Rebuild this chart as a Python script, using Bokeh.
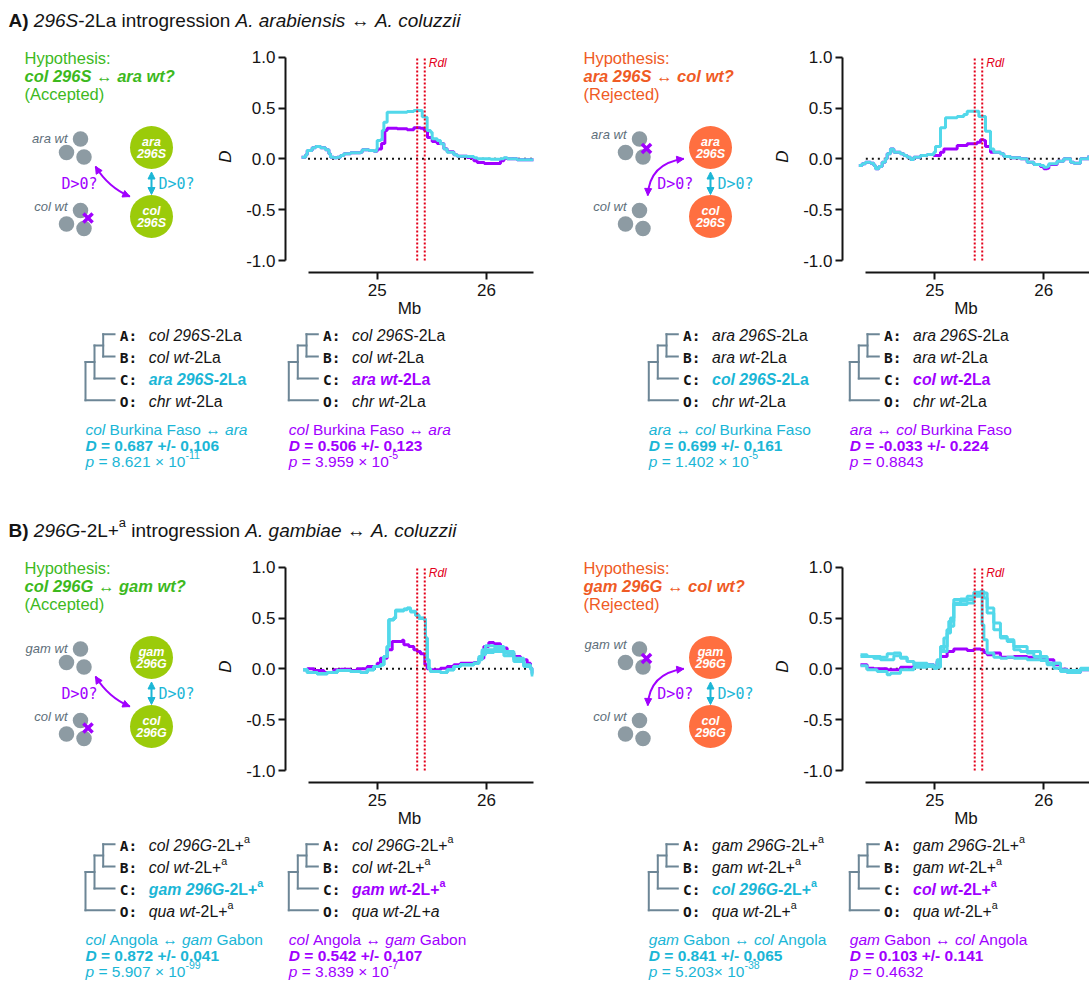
import numpy as np
from bokeh.plotting import figure
from bokeh.models import Range1d, FixedTicker, NumeralTickFormatter, Arrow, NormalHead
from bokeh.layouts import column, row
from bokeh.core.properties import value
from bokeh.embed import file_html
from bokeh.resources import INLINE

# ======================= DATA =======================
mb_ticks = [25, 26]
d_ticks = [-1.0, -0.5, 0.0, 0.5, 1.0]
rdl_pos = [25.366, 25.435]
mb_span = [24.367, 26.43]

# --- Panel A, left chart (col 296S <-> ara wt) ---
A1_cyan_mb = [24.308,24.345,24.360,24.405,24.436,24.482,24.527,24.558,24.573,24.604,24.634,24.665,24.695,24.756,24.848,24.863,24.924,24.970,24.994,25.000,25.030,25.046,25.061,25.091,25.183,25.274,25.335,25.396,25.412,25.442,25.457,25.488,25.503,25.549,25.579,25.610,25.640,25.701,25.732,25.823,25.884,25.915,26.037,26.128,26.159,26.189,26.280,26.433]
A1_cyan_d = [0.016,0.039,0.082,0.108,0.121,0.108,0.089,0.049,0.016,0.010,0.016,0.033,0.049,0.059,0.066,0.089,0.082,0.075,0.098,0.180,0.187,0.279,0.361,0.459,0.459,0.466,0.475,0.475,0.413,0.410,0.279,0.262,0.197,0.180,0.148,0.098,0.066,0.039,0.026,0.023,0.010,0.000,-0.003,0.000,0.010,0.000,-0.010,-0.010]
A1_purple_mb = [24.308,24.345,24.360,24.405,24.436,24.482,24.527,24.558,24.573,24.604,24.634,24.665,24.695,24.756,24.848,24.863,24.924,24.970,25.000,25.040,25.070,25.091,25.183,25.274,25.335,25.396,25.430,25.460,25.503,25.549,25.610,25.640,25.701,25.732,25.823,25.884,25.915,25.980,26.060,26.128,26.159,26.189,26.280,26.433]
A1_purple_d = [0.016,0.039,0.082,0.108,0.121,0.108,0.089,0.049,0.016,0.010,0.016,0.033,0.049,0.059,0.066,0.089,0.082,0.075,0.098,0.150,0.279,0.300,0.295,0.285,0.305,0.300,0.280,0.210,0.170,0.150,0.100,0.070,0.040,0.026,0.013,-0.020,-0.035,-0.045,-0.045,-0.020,0.005,0.000,-0.010,-0.010]

# --- Panel A, right chart (ara 296S <-> col wt) ---
A2_cyan_mb = [24.303,24.333,24.364,24.410,24.440,24.456,24.486,24.517,24.547,24.563,24.593,24.624,24.685,24.716,24.746,24.777,24.807,24.869,24.930,24.991,25.006,25.052,25.098,25.205,25.266,25.297,25.388,25.404,25.465,25.511,25.541,25.602,25.633,25.694,25.786,25.847,25.908,25.969,26.000,26.031,26.046,26.122,26.183,26.245,26.275,26.336,26.413]
A2_cyan_d = [-0.066,-0.049,-0.033,-0.043,-0.066,-0.098,-0.075,-0.033,0.000,0.049,0.098,0.066,0.049,0.033,0.016,-0.007,0.016,0.033,0.043,0.066,0.121,0.305,0.403,0.416,0.436,0.469,0.469,0.416,0.272,0.098,0.066,0.049,0.023,0.010,0.000,-0.033,-0.056,-0.066,-0.082,-0.075,-0.049,-0.023,0.000,-0.033,-0.043,0.000,0.033]
A2_purple_mb = [24.303,24.333,24.364,24.410,24.440,24.456,24.486,24.517,24.547,24.563,24.593,24.624,24.685,24.716,24.746,24.777,24.807,24.869,24.930,24.991,25.052,25.083,25.205,25.297,25.388,25.419,25.450,25.465,25.511,25.541,25.602,25.633,25.694,25.786,25.847,25.908,25.969,26.000,26.031,26.046,26.122,26.183,26.245,26.275,26.336,26.413]
A2_purple_d = [-0.066,-0.049,-0.033,-0.043,-0.066,-0.098,-0.075,-0.033,0.000,0.049,0.098,0.066,0.049,0.033,0.016,-0.007,0.016,0.033,0.043,0.033,0.066,0.098,0.131,0.148,0.164,0.187,0.180,0.121,0.066,0.066,0.049,0.023,0.010,0.000,-0.033,-0.056,-0.075,-0.098,-0.092,-0.055,-0.023,0.000,-0.033,-0.043,0.000,0.033]

# --- Panel B, left chart (col 296G <-> gam wt) ---
B1_purple_mb = [24.323,24.360,24.421,24.512,24.604,24.665,24.756,24.817,24.909,25.000,25.030,25.091,25.137,25.229,25.244,25.290,25.335,25.366,25.396,25.427,25.436,25.457,25.488,25.549,25.579,25.640,25.701,25.762,25.884,25.930,25.976,26.021,26.067,26.128,26.189,26.250,26.311,26.372,26.402,26.418]
B1_purple_d = [-0.010,0.000,-0.016,-0.036,-0.010,-0.003,-0.016,0.000,0.023,0.056,0.105,0.188,0.270,0.280,0.237,0.220,0.188,0.171,0.148,0.138,0.039,0.000,-0.010,-0.010,0.007,0.023,0.039,0.056,0.063,0.105,0.220,0.260,0.247,0.204,0.155,0.122,0.089,0.056,0.007,-0.043]
B1_cyan_mb = [24.323,24.360,24.451,24.543,24.634,24.756,24.848,24.909,24.970,25.030,25.061,25.091,25.107,25.152,25.168,25.244,25.274,25.305,25.351,25.381,25.427,25.442,25.457,25.473,25.488,25.579,25.640,25.701,25.762,25.884,25.930,25.960,25.991,26.067,26.159,26.250,26.341,26.402,26.418]
B1_cyan1_d = [-0.010,-0.036,-0.049,-0.036,-0.016,-0.026,-0.036,-0.010,0.023,0.039,0.122,0.220,0.484,0.500,0.576,0.589,0.599,0.566,0.533,0.500,0.490,0.303,0.089,0.000,-0.026,-0.036,-0.010,0.023,0.039,0.056,0.122,0.188,0.227,0.220,0.171,0.105,0.039,0.007,-0.076]
B1_cyan2_d = [-0.010,-0.036,-0.049,-0.036,-0.016,-0.026,-0.036,-0.010,0.023,0.039,0.122,0.220,0.484,0.500,0.570,0.580,0.590,0.560,0.525,0.495,0.485,0.303,0.089,0.000,-0.026,-0.036,-0.010,0.023,0.039,0.056,0.105,0.171,0.188,0.194,0.155,0.089,0.030,0.000,-0.060]
B1_cyan3_d = [-0.010,-0.036,-0.049,-0.036,-0.016,-0.026,-0.036,-0.010,0.023,0.039,0.122,0.220,0.484,0.500,0.576,0.585,0.595,0.563,0.530,0.498,0.488,0.303,0.089,0.000,-0.026,-0.036,-0.010,0.023,0.039,0.056,0.089,0.138,0.161,0.171,0.128,0.072,0.023,-0.005,-0.050]

# --- Panel B, right chart (gam 296G <-> col wt) ---
B2_purple_mb = [24.318,24.379,24.440,24.563,24.685,24.807,24.930,24.991,25.021,25.052,25.113,25.174,25.297,25.358,25.419,25.450,25.480,25.541,25.602,25.725,25.847,25.969,26.031,26.092,26.153,26.214,26.275,26.336,26.419]
B2_purple_d = [0.039,0.007,0.000,-0.010,0.016,0.030,0.039,0.023,0.072,0.122,0.171,0.194,0.181,0.194,0.188,0.161,0.138,0.155,0.115,0.122,0.115,0.105,0.089,0.039,-0.003,-0.036,-0.036,-0.010,0.007]
B2_cyan1_mb = [24.318,24.379,24.440,24.502,24.563,24.624,24.685,24.746,24.807,24.930,24.991,25.021,25.052,25.083,25.113,25.144,25.174,25.235,25.297,25.358,25.419,25.450,25.480,25.541,25.602,25.664,25.725,25.786,25.847,25.908,25.969,26.031,26.092,26.153,26.214,26.336,26.419]
B2_cyan1_d = [0.138,0.122,0.105,0.115,0.148,0.155,0.105,0.072,0.056,0.039,0.007,0.089,0.188,0.303,0.385,0.500,0.681,0.688,0.714,0.753,0.763,0.697,0.549,0.385,0.303,0.270,0.188,0.171,0.155,0.122,0.089,0.039,0.007,-0.026,-0.016,0.007,0.007]
B2_cyan2_mb = [24.318,24.502,24.563,24.624,24.685,24.746,24.807,24.930,24.991,25.052,25.113,25.144,25.174,25.297,25.358,25.419,25.450,25.480,25.541,25.602,25.664,25.725,25.847,25.969,26.031,26.153,26.336,26.419]
B2_cyan2_d = [0.122,0.089,0.089,0.128,0.115,0.072,0.039,0.023,0.016,0.171,0.352,0.418,0.632,0.648,0.730,0.753,0.747,0.599,0.451,0.319,0.286,0.220,0.171,0.122,0.056,-0.016,0.000,0.007]
B2_cyan3_mb = [24.318,24.379,24.471,24.563,24.593,24.685,24.807,24.930,24.991,25.021,25.052,25.113,25.128,25.174,25.235,25.297,25.358,25.419,25.434,25.450,25.480,25.541,25.602,25.664,25.725,25.847,25.969,26.031,26.153,26.214,26.336,26.419]
B2_cyan3_d = [0.030,-0.010,-0.026,-0.059,-0.043,-0.010,0.016,0.023,0.007,0.072,0.220,0.385,0.467,0.648,0.664,0.681,0.714,0.714,0.434,0.286,0.155,0.115,0.105,0.115,0.105,0.089,0.082,0.056,-0.010,-0.036,-0.010,0.007]

# ======================= STYLE =======================
PURPLE = "#A100FF"
CYAN_LINE = "#52D8EA"
CYAN_TXT = "#1BB6D6"
GREEN_TXT = "#3DB91E"
ORANGE_TXT = "#EF5B25"
GREEN_DOT = "#9BCB0A"
ORANGE_DOT = "#FF6F40"
GRAY_DOT = "#8D9BA3"
GRAY_TXT = "#5E6F7A"
TREE_COL = "#6D8696"
RED = "#E3001B"
BLACK = "#141414"
SANS = "Liberation Sans"
MONO = "DejaVu Sans Mono"

REG = {' ':278,'!':278,'(':333,')':333,'+':584,',':278,'-':333,'.':278,'/':278,':':278,'=':584,'>':584,'?':556,'\u00d7':584,'\u2194':1000,
       'A':667,'B':667,'C':722,'D':722,'E':667,'F':611,'G':778,'H':722,'I':278,'J':500,'K':667,'L':556,'M':833,'N':722,'O':778,'P':667,
       'Q':778,'R':722,'S':667,'T':611,'U':722,'V':667,'W':944,'X':667,'Y':667,'Z':611,
       'a':556,'b':556,'c':500,'d':556,'e':556,'f':278,'g':556,'h':556,'i':222,'j':222,'k':500,'l':222,'m':833,'n':556,'o':556,'p':556,
       'q':556,'r':333,'s':500,'t':278,'u':556,'v':500,'w':722,'x':500,'y':500,'z':500}
BOLD = {' ':278,'!':333,'(':333,')':333,'+':584,',':278,'-':333,'.':278,'/':278,':':333,'=':584,'>':584,'?':611,'\u00d7':584,'\u2194':1000,
        'A':722,'B':722,'C':722,'D':722,'E':667,'F':611,'G':778,'H':722,'I':278,'J':556,'K':722,'L':611,'M':833,'N':722,'O':778,'P':667,
        'Q':778,'R':722,'S':667,'T':611,'U':722,'V':667,'W':944,'X':667,'Y':667,'Z':611,
        'a':556,'b':611,'c':556,'d':611,'e':556,'f':333,'g':611,'h':611,'i':278,'j':278,'k':556,'l':278,'m':889,'n':611,'o':611,'p':611,
        'q':611,'r':389,'s':556,'t':333,'u':611,'v':556,'w':778,'x':556,'y':556,'z':500}
for _d in "0123456789":
    REG[_d] = 556
    BOLD[_d] = 556


def tw(s, size, bold=False):
    t = BOLD if bold else REG
    return sum(t.get(c, 556) for c in s) * size / 1000.0


def put(p, x, y, s, size, color, style="normal", font=SANS, align="left"):
    p.text(x=[x], y=[y], text=[s], text_font=value(font), text_font_size=f"{size}px",
           text_font_style=style, text_color=color, text_align=align, text_baseline="middle")


def rich(p, x, y, segs, size, color):
    """segments drawn one after another; y is the visual middle of the line"""
    cx = x
    for s, st in segs:
        b = "b" in st
        it = "i" in st
        sup = "^" in st
        sz = round(size * 0.68, 2) if sup else size
        yy = y - size * 0.40 if sup else y
        style = "bold italic" if (b and it) else ("bold" if b else ("italic" if it else "normal"))
        w = tw(s, sz, b)
        core = s.strip(" ")
        lead = tw(s[:len(s) - len(s.lstrip(" "))], sz, b)
        if core == "\u2194":
            tail = tw(s[len(s.rstrip(" ")):], sz, b)
            put(p, cx + lead + (w - lead - tail) / 2, yy, core, sz, color, "normal", align="center")
        elif core:
            put(p, cx + lead, yy, core, sz, color, style)
        cx += w
    return cx


def canvas(w, h, x0, y0, bottom=0):
    p = figure(width=w, height=h, x_range=Range1d(x0, x0 + w), y_range=Range1d(y0 + h - bottom, y0),
               min_border=0, min_border_left=0, min_border_right=0, min_border_top=0, min_border_bottom=bottom,
               x_axis_location=None, y_axis_location=None, toolbar_location=None,
               output_backend="svg", title=None)
    p.xgrid.visible = False
    p.ygrid.visible = False
    p.outline_line_color = None
    return p


ROW_H = 284
ROW_BOTTOM = 52  # x-axis area below the chart frame (frame spans section y 40..272)
TREE_TOP = 40 + ROW_H


def make_chart(width, bl, br, x_lo, x_hi, series):
    p = figure(width=width, height=ROW_H, x_range=Range1d(x_lo, x_hi), y_range=Range1d(-1.118, 1.164),
               min_border_left=bl, min_border_right=br, min_border_top=0, min_border_bottom=ROW_BOTTOM,
               toolbar_location=None, output_backend="svg", title=None)
    p.xgrid.visible = False
    p.ygrid.visible = False
    p.outline_line_color = None
    p.segment(x0=[mb_span[0]], y0=[0], x1=[min(mb_span[1], x_hi)], y1=[0], line_color=BLACK, line_width=2, line_dash="2 4")
    for mb, d, col in series:
        p.step(mb, d, mode="after", line_width=3, line_color=col)
    p.segment(x0=rdl_pos, y0=[d_ticks[0]] * 2, x1=rdl_pos, y1=[d_ticks[-1]] * 2,
              line_color=RED, line_width=2, line_dash="2 2")
    p.text(x=[rdl_pos[1]], y=[0.944], text=["Rdl"], x_offset=4, text_font=value(SANS),
           text_font_size="12px", text_font_style="italic", text_color=RED, text_baseline="middle")
    p.xaxis.ticker = FixedTicker(ticks=mb_ticks)
    p.xaxis.bounds = (mb_span[0], min(mb_span[1], x_hi))
    p.xaxis.axis_label = "Mb"
    p.yaxis.ticker = FixedTicker(ticks=d_ticks)
    p.yaxis.bounds = (d_ticks[0], d_ticks[-1])
    p.yaxis.formatter = NumeralTickFormatter(format="0.0")
    p.yaxis.axis_label = "D"
    p.yaxis.axis_label_text_font_style = "italic"
    p.xaxis.axis_label_text_font_style = "normal"
    for ax in (p.xaxis[0], p.yaxis[0]):
        ax.axis_line_width = 2
        ax.axis_line_color = BLACK
        ax.major_tick_line_width = 2
        ax.major_tick_line_color = BLACK
        ax.major_tick_in = 0
        ax.major_tick_out = 7
        ax.minor_tick_line_color = None
        ax.major_label_text_font = SANS
        ax.major_label_text_font_size = "17px"
        ax.major_label_text_color = BLACK
        ax.axis_label_text_font = SANS
        ax.axis_label_text_font_size = "17px"
        ax.axis_label_text_color = BLACK
    p.yaxis.major_label_standoff = 3
    p.yaxis.axis_label_standoff = 8
    p.xaxis.major_label_standoff = 4
    p.xaxis.axis_label_standoff = 0
    return p


def draw_diagram(p, ox, spec):
    hc = spec["hyp_color"]
    rich(p, 24 + ox, 57.0, [("Hypothesis:", "n")], 16.5, hc)
    rich(p, 24 + ox, 75.2, spec["hyp"], 16.5, hc)
    rich(p, 24 + ox, 93.5, [(spec["verdict"], "n")], 16.5, hc)
    offs = [(0, 0), (-14, 13.5), (3.5, 18)]
    for ay, lab, ly in [(138.5, spec["top_cluster"], spec["top_label_y"]), (210, spec["bottom_cluster"], 206)]:
        p.scatter([80 + ox + dx for dx, dy in offs], [ay + dy for dx, dy in offs], marker="circle",
                  size=15.5, fill_color=GRAY_DOT, line_color=None)
        put(p, 67 + ox, ly, lab, 13, GRAY_TXT, "italic", align="right")
    cxy = (87.5, 217.5) if spec["crossed"] == "bottom" else (87, 148)
    p.scatter([cxy[0] + ox], [cxy[1]], marker="x", size=13, line_color=PURPLE, line_width=3.5)
    for cy, labs in [(147, spec["top_circle"]), (216, spec["bottom_circle"])]:
        p.scatter([151 + ox], [cy], marker="circle", size=43, fill_color=spec["dot_color"], line_color=None)
        put(p, 151 + ox, cy - 5.8, labs[0], 12.5, "white", "bold italic", align="center")
        put(p, 151 + ox, cy + 6.8, labs[1], 12.5, "white", "bold italic", align="center")
    p.add_layout(Arrow(start=NormalHead(size=7, line_color=CYAN_TXT, fill_color=CYAN_TXT),
                       end=NormalHead(size=7, line_color=CYAN_TXT, fill_color=CYAN_TXT),
                       x_start=151 + ox, y_start=171.5, x_end=151 + ox, y_end=194,
                       line_color=CYAN_TXT, line_width=2))
    put(p, 158 + ox, 183, "D>0?", 15, CYAN_TXT, "normal", font=MONO)
    if spec["side"] == "left":
        P0, C, P2, lx = (95, 166), (108, 187), (129.3, 196), 61
    else:
        P0, C, P2, lx = (124.3, 158.3), (90, 163), (88.3, 195), 97.7
    P0 = (P0[0] + ox, P0[1]); C = (C[0] + ox, C[1]); P2 = (P2[0] + ox, P2[1])
    p.quadratic(x0=[P0[0]], y0=[P0[1]], x1=[P2[0]], y1=[P2[1]], cx=[C[0]], cy=[C[1]],
                line_color=PURPLE, line_width=2)
    for tip, ctrl in [(P0, C), (P2, C)]:
        sx = tip[0] + 0.2 * (ctrl[0] - tip[0])
        sy = tip[1] + 0.2 * (ctrl[1] - tip[1])
        p.add_layout(Arrow(end=NormalHead(size=7, line_color=PURPLE, fill_color=PURPLE),
                           x_start=sx, y_start=sy, x_end=tip[0], y_end=tip[1],
                           line_color=PURPLE, line_width=2))
    put(p, lx + ox, 183, "D>0?", 15, PURPLE, "normal", font=MONO)


def draw_tree(p, x0, tree):
    yc = [335.0, 357.2, 379.2, 401.0]
    yl = [c - 1.2 for c in yc]
    x1, x2, xe = x0 + 9, x0 + 17.7, x0 + 29
    yab = (yl[0] + yl[1]) / 2
    yabc = (yab + yl[2]) / 2
    sx0 = [x2, x2, x2, x1, x1, x1, x0, x0, x0]
    sy0 = [yl[0], yl[0], yl[1], yab, yab, yl[2], yabc, yabc, yl[3]]
    sx1 = [x2, xe, xe, x1, x2, xe, x0, x1, xe]
    sy1 = [yl[1], yl[0], yl[1], yl[2], yab, yl[2], yl[3], yabc, yl[3]]
    p.segment(x0=sx0, y0=sy0, x1=sx1, y1=sy1, line_color=TREE_COL, line_width=2, line_cap="square")
    col = tree["color"]
    for i, (letter, segs) in enumerate(zip(["A:", "B:", "C:", "O:"], tree["rows"])):
        put(p, x0 + 34.3, yc[i], letter, 14.5, BLACK, "bold", font=MONO)
        rich(p, x0 + 63.3, yc[i], segs, 15.8, col if i == 2 else BLACK)
    for j, segs in enumerate(tree["bottom"]):
        rich(p, x0, [428.5, 444.8, 461.0][j], segs, 15.5, col)


# ======================= TEXT CONTENT =======================
ARROW = "\u2194"
sA = [("-2La", "n")]
sA_b = [("-2La", "b")]
sB = [("-2L+", "n"), ("a", "^")]
sB_b = [("-2L+", "b"), ("a", "b^")]


def plab(num, exp):
    segs = [("p", "i"), (" = " + num, "n")]
    if exp is not None:
        segs += [("-" + exp, "^")]
    return segs


SECTIONS = [
    dict(
        title=[("A)", "b"), (" ", "n"), ("296S", "i"), ("-2La introgression ", "n"), ("A. arabiensis", "i"),
               (" ", "n"), (ARROW, "n"), (" ", "n"), ("A. coluzzii", "i")],
        diagrams=[
            dict(side="left", hyp_color=GREEN_TXT, dot_color=GREEN_DOT, verdict="(Accepted)",
                 hyp=[("col 296S", "bi"), (" ", "b"), (ARROW, "n"), (" ", "b"), ("ara wt?", "bi")],
                 top_cluster="ara wt", bottom_cluster="col wt", top_label_y=138.0, crossed="bottom",
                 top_circle=["ara", "296S"], bottom_circle=["col", "296S"]),
            dict(side="right", hyp_color=ORANGE_TXT, dot_color=ORANGE_DOT, verdict="(Rejected)",
                 hyp=[("ara 296S", "bi"), (" ", "b"), (ARROW, "n"), (" ", "b"), ("col wt?", "bi")],
                 top_cluster="ara wt", bottom_cluster="col wt", top_label_y=134.0, crossed="top",
                 top_circle=["ara", "296S"], bottom_circle=["col", "296S"]),
        ],
        charts=[
            [(A1_purple_mb, A1_purple_d, PURPLE), (A1_cyan_mb, A1_cyan_d, CYAN_LINE)],
            [(A2_purple_mb, A2_purple_d, PURPLE), (A2_cyan_mb, A2_cyan_d, CYAN_LINE)],
        ],
        trees=[
            dict(color=CYAN_TXT,
                 rows=[[("col 296S", "i")] + sA, [("col wt", "i")] + sA, [("ara 296S", "bi")] + sA_b, [("chr wt", "i")] + sA],
                 bottom=[[("col", "i"), (" Burkina Faso ", "n"), (ARROW, "n"), (" ", "n"), ("ara", "i")],
                         [("D", "bi"), (" = 0.687 +/- 0.106", "b")], plab("8.621 \u00d7 10", "11")]),
            dict(color=PURPLE,
                 rows=[[("col 296S", "i")] + sA, [("col wt", "i")] + sA, [("ara wt", "bi")] + sA_b, [("chr wt", "i")] + sA],
                 bottom=[[("col", "i"), (" Burkina Faso ", "n"), (ARROW, "n"), (" ", "n"), ("ara", "i")],
                         [("D", "bi"), (" = 0.506 +/- 0.123", "b")], plab("3.959 \u00d7 10", "5")]),
            dict(color=CYAN_TXT,
                 rows=[[("ara 296S", "i")] + sA, [("ara wt", "i")] + sA, [("col 296S", "bi")] + sA_b, [("chr wt", "i")] + sA],
                 bottom=[[("ara", "i"), (" ", "n"), (ARROW, "n"), (" ", "n"), ("col", "i"), (" Burkina Faso", "n")],
                         [("D", "bi"), (" = 0.699 +/- 0.161", "b")], plab("1.402 \u00d7 10", "5")]),
            dict(color=PURPLE,
                 rows=[[("ara 296S", "i")] + sA, [("ara wt", "i")] + sA, [("col wt", "bi")] + sA_b, [("chr wt", "i")] + sA],
                 bottom=[[("ara", "i"), (" ", "n"), (ARROW, "n"), (" ", "n"), ("col", "i"), (" Burkina Faso", "n")],
                         [("D", "bi"), (" = -0.033 +/- 0.224", "b")], plab("0.8843", None)]),
        ],
        tree_h=510 - TREE_TOP,
    ),
    dict(
        title=[("B)", "b"), (" ", "n"), ("296G", "i"), ("-2L+", "n"), ("a", "^"), (" introgression ", "n"),
               ("A. gambiae", "i"), (" ", "n"), (ARROW, "n"), (" ", "n"), ("A. coluzzii", "i")],
        diagrams=[
            dict(side="left", hyp_color=GREEN_TXT, dot_color=GREEN_DOT, verdict="(Accepted)",
                 hyp=[("col 296G", "bi"), (" ", "b"), (ARROW, "n"), (" ", "b"), ("gam wt?", "bi")],
                 top_cluster="gam wt", bottom_cluster="col wt", top_label_y=138.0, crossed="bottom",
                 top_circle=["gam", "296G"], bottom_circle=["col", "296G"]),
            dict(side="right", hyp_color=ORANGE_TXT, dot_color=ORANGE_DOT, verdict="(Rejected)",
                 hyp=[("gam 296G", "bi"), (" ", "b"), (ARROW, "n"), (" ", "b"), ("col wt?", "bi")],
                 top_cluster="gam wt", bottom_cluster="col wt", top_label_y=134.0, crossed="top",
                 top_circle=["gam", "296G"], bottom_circle=["col", "296G"]),
        ],
        charts=[
            [(B1_purple_mb, B1_purple_d, PURPLE), (B1_cyan_mb, B1_cyan3_d, CYAN_LINE),
             (B1_cyan_mb, B1_cyan2_d, CYAN_LINE), (B1_cyan_mb, B1_cyan1_d, CYAN_LINE)],
            [(B2_purple_mb, B2_purple_d, PURPLE), (B2_cyan3_mb, B2_cyan3_d, CYAN_LINE),
             (B2_cyan2_mb, B2_cyan2_d, CYAN_LINE), (B2_cyan1_mb, B2_cyan1_d, CYAN_LINE)],
        ],
        trees=[
            dict(color=CYAN_TXT,
                 rows=[[("col 296G", "i")] + sB, [("col wt", "i")] + sB, [("gam 296G", "bi")] + sB_b, [("qua wt", "i")] + sB],
                 bottom=[[("col", "i"), (" Angola ", "n"), (ARROW, "n"), (" ", "n"), ("gam", "i"), (" Gabon", "n")],
                         [("D", "bi"), (" = 0.872 +/- 0.041", "b")], plab("5.907 \u00d7 10", "99")]),
            dict(color=PURPLE,
                 rows=[[("col 296G", "i")] + sB, [("col wt", "i")] + sB, [("gam wt", "bi")] + sB_b, [("qua wt-2L+a", "i")]],
                 bottom=[[("col", "i"), (" Angola ", "n"), (ARROW, "n"), (" ", "n"), ("gam", "i"), (" Gabon", "n")],
                         [("D", "bi"), (" = 0.542 +/- 0.107", "b")], plab("3.839 \u00d7 10", "7")]),
            dict(color=CYAN_TXT,
                 rows=[[("gam 296G", "i")] + sB, [("gam wt", "i")] + sB, [("col 296G", "bi")] + sB_b, [("qua wt", "i")] + sB],
                 bottom=[[("gam", "i"), (" Gabon ", "n"), (ARROW, "n"), (" ", "n"), ("col", "i"), (" Angola", "n")],
                         [("D", "bi"), (" = 0.841 +/- 0.065", "b")], plab("5.203\u00d7 10", "38")]),
            dict(color=PURPLE,
                 rows=[[("gam 296G", "i")] + sB, [("gam wt", "i")] + sB, [("col wt", "bi")] + sB_b, [("qua wt", "i")] + sB],
                 bottom=[[("gam", "i"), (" Gabon ", "n"), (ARROW, "n"), (" ", "n"), ("col", "i"), (" Angola", "n")],
                         [("D", "bi"), (" = 0.103 +/- 0.141", "b")], plab("0.4632", None)]),
        ],
        tree_h=472 - TREE_TOP,
    ),
]

TREE_X = [85, 288.3, 648.3, 849.3]

# ======================= BUILD =======================
blocks = []
for sec in SECTIONS:
    tp = canvas(1089, 40, 0, 0)
    rich(tp, 8, 19.5, sec["title"], 19, BLACK)
    d1 = canvas(210, ROW_H, 0, 40, bottom=ROW_BOTTOM)
    draw_diagram(d1, 0, sec["diagrams"][0])
    c1 = make_chart(330, 75, 7, 24.161, 26.430, sec["charts"][0])
    d2 = canvas(228, ROW_H, 540, 40, bottom=ROW_BOTTOM)
    draw_diagram(d2, 559, sec["diagrams"][1])
    c2 = make_chart(321, 74, 0, 24.153, 26.419, sec["charts"][1])
    trp = canvas(1089, sec["tree_h"], 0, TREE_TOP)
    for x0, tree in zip(TREE_X, sec["trees"]):
        draw_tree(trp, x0, tree)
    blocks += [tp, row(d1, c1, d2, c2), trp]

layout = column(*blocks)
open("out.html", "w").write(file_html(layout, INLINE))
